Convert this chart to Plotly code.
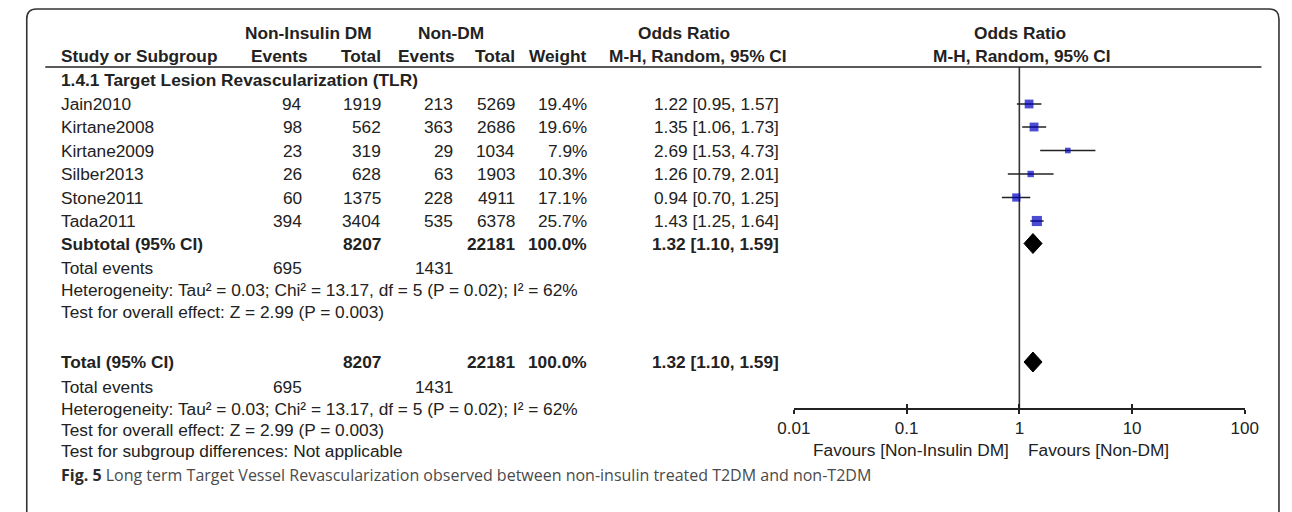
import math
import plotly.graph_objects as go

W, H = 1292, 512
FONT = "Liberation Sans, Arial, sans-serif"
CAP_FONT = "Open Sans, sans-serif"
FS = 17.3

# ---------------- data ----------------
studies = ["Jain2010", "Kirtane2008", "Kirtane2009", "Silber2013", "Stone2011", "Tada2011"]
ni_events = [94, 98, 23, 26, 60, 394]
ni_total = [1919, 562, 319, 628, 1375, 3404]
nd_events = [213, 363, 29, 63, 228, 535]
nd_total = [5269, 2686, 1034, 1903, 4911, 6378]
weights = [19.4, 19.6, 7.9, 10.3, 17.1, 25.7]
or_vals = [1.22, 1.35, 2.69, 1.26, 0.94, 1.43]
ci_lo = [0.95, 1.06, 1.53, 0.79, 0.70, 1.25]
ci_hi = [1.57, 1.73, 4.73, 2.01, 1.25, 1.64]

sum_or, sum_lo, sum_hi = 1.32, 1.10, 1.59
sum_ni_total, sum_nd_total = 8207, 22181
sum_weight = 100.0
tot_ni_events, tot_nd_events = 695, 1431

tick_vals = [0.01, 0.1, 1, 10, 100]
tick_text = ["0.01", "0.1", "1", "10", "100"]

group_title = "1.4.1 Target Lesion Revascularization (TLR)"
het_text = "Heterogeneity: Tau² = 0.03; Chi² = 13.17, df = 5 (P = 0.02); I² = 62%"
test_text = "Test for overall effect: Z = 2.99 (P = 0.003)"
subgroup_text = "Test for subgroup differences: Not applicable"
favours_left = "Favours [Non-Insulin DM]"
favours_right = "Favours [Non-DM]"
caption_bold = "Fig. 5"
caption_text = "Long term Target Vessel Revascularization observed between non-insulin treated T2DM and non-T2DM"

# ---------------- layout (pixel rows / columns) ----------------
y_hdr1, y_hdr2, y_line, y_group = 33, 56, 67, 80
y_study = [104, 127, 150.5, 174, 197.5, 221]
y_sub = 243.5
y_te1, y_het1, y_test1 = 268, 290, 311.5
y_tot = 362
y_te2, y_het2, y_test2, y_subg = 387, 409, 430, 451
y_caption = 475
y_axis = 409
y_fav = 450
diamond_half = 10

x_study = 45
x_ni_ev, x_ni_ev_h = 292, 298
x_ni_tot = 373
x_nd_ev, x_nd_ev_h = 447, 449
x_nd_tot = 510
x_wt = 584
x_ci = 781
x_or_hdr_c, x_mh_hdr_c = 683.5, 697.5
x_ni_grp_c, x_nd_grp_c = 299, 445
x_plot0, x_plot1 = 796, 1258

TXT = "#222222"
anns = []


def ann(text, x, y, anchor="left", bold=False, size=FS, color=TXT, family=FONT):
    if bold:
        text = "<b>" + text + "</b>"
    anns.append(dict(text=text, x=x / W, y=y, xref="paper", yref="y",
                     xanchor=anchor, yanchor="middle", showarrow=False,
                     borderpad=0, borderwidth=0,
                     font=dict(family=family, size=size, color=color)))


# headers
ann("Non-Insulin DM", x_ni_grp_c, y_hdr1, "center", True)
ann("Non-DM", x_nd_grp_c, y_hdr1, "center", True)
ann("Odds Ratio", x_or_hdr_c, y_hdr1, "center", True)
ann("Study or Subgroup", x_study, y_hdr2, "left", True)
ann("Events", x_ni_ev_h, y_hdr2, "right", True)
ann("Total", x_ni_tot, y_hdr2, "right", True)
ann("Events", x_nd_ev_h, y_hdr2, "right", True)
ann("Total", x_nd_tot, y_hdr2, "right", True)
ann("Weight", x_wt, y_hdr2, "right", True)
ann("M-H, Random, 95% CI", x_mh_hdr_c, y_hdr2, "center", True)
ann(group_title, x_study, y_group, "left", True)

# study rows
for i, s in enumerate(studies):
    y = y_study[i]
    ann(s, x_study, y)
    ann(str(ni_events[i]), x_ni_ev, y, "right")
    ann(str(ni_total[i]), x_ni_tot, y, "right")
    ann(str(nd_events[i]), x_nd_ev, y, "right")
    ann(str(nd_total[i]), x_nd_tot, y, "right")
    ann(f"{weights[i]:.1f}%", x_wt, y, "right")
    ann(f"{or_vals[i]:.2f} [{ci_lo[i]:.2f}, {ci_hi[i]:.2f}]", x_ci, y, "right")

ci_sum = f"{sum_or:.2f} [{sum_lo:.2f}, {sum_hi:.2f}]"
for label, ys in (("Subtotal (95% CI)", (y_sub, y_te1, y_het1, y_test1)),
                  ("Total (95% CI)", (y_tot, y_te2, y_het2, y_test2))):
    yb, yte, yh, yt = ys
    ann(label, x_study, yb, "left", True)
    ann(str(sum_ni_total), x_ni_tot, yb, "right", True)
    ann(str(sum_nd_total), x_nd_tot, yb, "right", True)
    ann(f"{sum_weight:.1f}%", x_wt, yb, "right", True)
    ann(ci_sum, x_ci, yb, "right", True)
    ann("Total events", x_study, yte)
    ann(str(tot_ni_events), x_ni_ev, yte, "right")
    ann(str(tot_nd_events), x_nd_ev, yte, "right")
    ann(het_text, x_study, yh)
    ann(test_text, x_study, yt)
ann(subgroup_text, x_study, y_subg)

# right panel header
ann("Odds Ratio", (x_plot0 + x_plot1) / 2 + 1, y_hdr1, "center", True)
ann("M-H, Random, 95% CI", (x_plot0 + x_plot1) / 2 + 3, y_hdr2, "center", True)

# favours labels tied to OR = 1 on the log axis
anns.append(dict(text=favours_left, x=0, y=y_fav, xref="x", yref="y", xanchor="right",
                 yanchor="middle", xshift=-10, showarrow=False, borderpad=0, borderwidth=0,
                 font=dict(family=FONT, size=FS, color=TXT)))
anns.append(dict(text=favours_right, x=0, y=y_fav, xref="x", yref="y", xanchor="left",
                 yanchor="middle", xshift=9, showarrow=False, borderpad=0, borderwidth=0,
                 font=dict(family=FONT, size=FS, color=TXT)))

# caption
anns.append(dict(text=f"<span style='color:#2b2b2b'><b>{caption_bold}</b></span> {caption_text}",
                 x=x_study / W, y=y_caption, xref="paper", yref="y", xanchor="left",
                 yanchor="middle", showarrow=False, borderpad=0, borderwidth=0,
                 font=dict(family=CAP_FONT, size=16, color="#4a4a4a")))

# ---------------- traces ----------------
fig = go.Figure()

# line of no effect
fig.add_trace(go.Scatter(x=[1, 1], y=[y_line, y_axis], mode="lines",
                         line=dict(color="#333333", width=1.6), hoverinfo="skip",
                         showlegend=False, xaxis="x", yaxis="y"))

# study estimates with CIs
fig.add_trace(go.Scatter(
    x=or_vals, y=y_study, mode="markers",
    marker=dict(symbol="square", color="#0000C0",
                size=[2.0 * math.sqrt(w) for w in weights], line=dict(width=0)),
    error_x=dict(type="data", symmetric=False,
                 array=[h - o for h, o in zip(ci_hi, or_vals)],
                 arrayminus=[o - l for o, l in zip(or_vals, ci_lo)],
                 width=0, thickness=1.6, color="#222222"),
    showlegend=False, hoverinfo="skip", xaxis="x", yaxis="y", cliponaxis=False))

# summary diamonds
for yd in (y_sub, y_tot):
    fig.add_trace(go.Scatter(
        x=[sum_lo, sum_or, sum_hi, sum_or, sum_lo],
        y=[yd, yd - diamond_half, yd, yd + diamond_half, yd],
        mode="lines", fill="toself", fillcolor="#000000",
        line=dict(color="#000000", width=1), showlegend=False, hoverinfo="skip",
        xaxis="x2", yaxis="y"))

# ---------------- shapes ----------------
shapes = []
# header rule
shapes.append(dict(type="line", xref="paper", yref="y", x0=29 / W, x1=1275 / W,
                   y0=y_line, y1=y_line, line=dict(color="#222222", width=1.6)))
# rounded frame (right side runs along the window edge)
fx0, fx1, fy0, r = 10, 1293, 9, 10
path = (f"M {fx0 / W},{H} L {fx0 / W},{fy0 + r} Q {fx0 / W},{fy0} {(fx0 + r) / W},{fy0} "
        f"L {(fx1 - r) / W},{fy0} Q {fx1 / W},{fy0} {fx1 / W},{fy0 + r} L {fx1 / W},{H}")
shapes.append(dict(type="path", xref="paper", yref="y", path=path,
                   line=dict(color="#333333", width=1.6)))

axis_pos = (H - y_axis) / H
dom = [x_plot0 / W, x_plot1 / W]

fig.update_layout(
    width=W, height=H, margin=dict(l=0, r=0, t=0, b=0),
    paper_bgcolor="white", plot_bgcolor="rgba(0,0,0,0)",
    showlegend=False,
    annotations=anns, shapes=shapes,
    xaxis=dict(type="log", range=[-2, 2], domain=dom, anchor="free", position=axis_pos,
               showgrid=False, zeroline=False, showline=True, linecolor="#222222",
               linewidth=1.6, ticks="outside", ticklen=4, tickwidth=1.6, tickcolor="#222222",
               tickvals=tick_vals, ticktext=tick_text,
               tickfont=dict(family=FONT, size=17, color=TXT), fixedrange=True),
    xaxis2=dict(type="log", range=[-2, 2], domain=dom, anchor="free", position=axis_pos,
                overlaying="x", showgrid=False, zeroline=False, showline=False,
                ticks="inside", ticklen=5, tickwidth=1.6, tickcolor="#222222",
                tickvals=tick_vals, showticklabels=False, fixedrange=True),
    yaxis=dict(domain=[0, 1], range=[H, 0], visible=False, showgrid=False,
               zeroline=False, fixedrange=True),
)

fig.write_html("out.html")
